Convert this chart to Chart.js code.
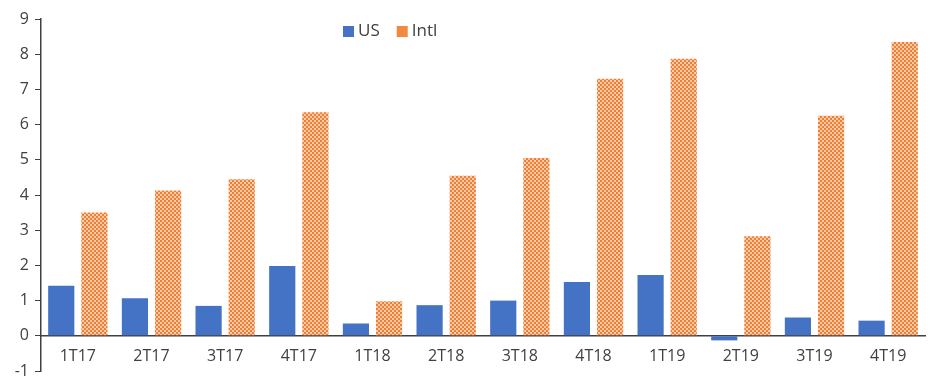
<!DOCTYPE html>
<html><head><meta charset="utf-8">
<script src="https://cdn.jsdelivr.net/npm/chart.js@4/dist/chart.umd.min.js"></script>
<style>html,body{margin:0;padding:0;background:#fff}#wrap{width:935px;height:384px}</style>
</head><body><div id="wrap"><canvas id="c"></canvas></div>
<script>
const categories = ["1T17","2T17","3T17","4T17","1T18","2T18","3T18","4T18","1T19","2T19","3T19","4T19"];
const usValues = [1.42,1.07,0.85,1.98,0.35,0.87,1.0,1.53,1.73,-0.13,0.52,0.43];
const intlValues = [3.50,4.13,4.45,6.35,0.98,4.55,5.05,7.30,7.87,2.83,6.25,8.35];
const yTicks = [-1,0,1,2,3,4,5,6,7,8,9];

function makePattern(){
  const p = document.createElement('canvas'); p.width = 4; p.height = 4;
  const g = p.getContext('2d');
  g.fillStyle = '#F9CBAA'; g.fillRect(0,0,4,4);
  g.fillStyle = '#EF7F33';
  g.fillRect(0,0,2,2); g.fillRect(2,2,2,2);
  return document.getElementById('c').getContext('2d').createPattern(p,'repeat');
}
const pat = makePattern();
const FONT = "'Open Sans', 'Noto Sans', sans-serif";

const legendPlugin = {
  id:'customLegend',
  afterDraw(chart){
    const ctx = chart.ctx;
    ctx.save();
    ctx.font = "17px " + FONT;
    ctx.textBaseline = 'middle';
    let x = 343; const y = 31;
    chart.data.datasets.forEach((ds,i)=>{
      ctx.fillStyle = ds.legendColor;
      ctx.fillRect(x, y-5, 11, 11);
      ctx.fillStyle = '#404040';
      ctx.fillText(ds.label, x+15, y);
      x += 15 + ctx.measureText(ds.label).width + 17;
    });
    ctx.restore();
  }
};

new Chart(document.getElementById('c'), {
  type:'bar',
  data:{labels:categories, datasets:[
    {label:'US', data:usValues, backgroundColor:'#4472C4', legendColor:'#4472C4', borderWidth:0},
    {label:'Intl', data:intlValues, backgroundColor:pat, legendColor:'#F08A40', borderWidth:0}
  ]},
  options:{
    responsive:true, maintainAspectRatio:false, animation:false,
    layout:{padding:{top:19,right:10,bottom:13,left:0}},
    plugins:{legend:{display:false}, tooltip:{enabled:false}},
    datasets:{bar:{categoryPercentage:0.9, barPercentage:0.79}},
    scales:{
      x:{position:{y:0},
         grid:{display:false, drawTicks:false},
         border:{display:true,color:'#404040',width:1.5},
         ticks:{color:'#404040', font:{family:FONT,size:16}, padding:11}},
      y:{min:-1,max:9,
         afterBuildTicks:s=>{s.ticks = yTicks.map(v=>({value:v}));},
         afterFit:s=>{s.width = 41; s.paddingTop = 0; s.paddingBottom = 0;},
         grid:{drawOnChartArea:false, tickLength:6, color:'#404040'},
         border:{display:true,color:'#404040',width:1.5},
         ticks:{color:'#404040', font:{family:FONT,size:16}, padding:6}}
    }
  },
  plugins:[legendPlugin]
});
</script></body></html>
